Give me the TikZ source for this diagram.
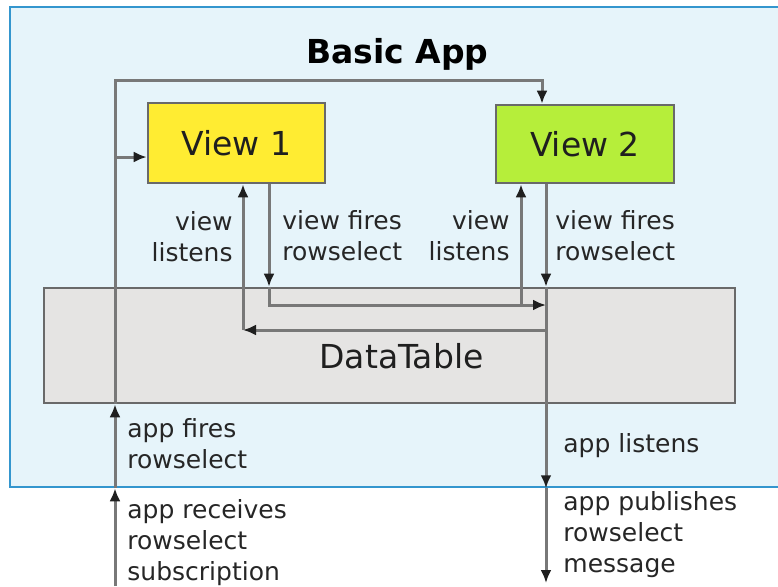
\documentclass[tikz,border=0pt]{standalone}
\usepackage{fontspec}
\setmainfont{DejaVu Sans}
\usetikzlibrary{arrows.meta, positioning, calc}
\definecolor{appblue}{RGB}{230,244,250}
\definecolor{appedge}{RGB}{52,150,206}
\definecolor{viewyellow}{RGB}{255,236,50}
\definecolor{viewgreen}{RGB}{182,238,58}
\definecolor{tablegray}{RGB}{229,228,227}
\definecolor{edgegray}{RGB}{105,105,105}
\definecolor{linegray}{RGB}{120,120,120}

\begin{document}
\begin{tikzpicture}[x=0.5pt, y=-0.5pt,
    box/.style={rectangle, draw=edgegray, line width=1.3pt, inner sep=0pt},
    bigtext/.style={font=\fontsize{16.5}{19}\selectfont, text=black!88},
    lbl/.style={font=\fontsize{12.5}{15.5}\selectfont, inner sep=0pt, text=black!85},
    flow/.style={-{Latex[length=6.5pt,width=5.5pt,color=black!88]}, draw=linegray, line width=1.5pt},
]
\clip (0,0) rectangle (778,586);

\node[box, draw=appedge, fill=appblue, minimum width=395pt, minimum height=240pt] (app) at (405,247) {};
\node[font=\fontsize{16.5}{19}\selectfont\bfseries, anchor=base] (title) at (397.5,63) {Basic App};

\node[box, bigtext, fill=viewyellow, minimum width=88.5pt, minimum height=40pt] (view1) at (236.5,143) {View 1};
\node[box, bigtext, fill=viewgreen, minimum width=89pt, minimum height=39pt] (view2) at (585,144) {View 2};
\node[box, fill=tablegray, minimum width=345.5pt, minimum height=57.5pt] (table) at (389.5,345.5) {};
\node[bigtext, anchor=base] (tablename) at (401.5,368) {DataTable};

% app subscription -> DataTable -> views
\coordinate (sub) at (115,586);
\coordinate (loopL) at (115,80);
\coordinate (loopR) at (542,80);
\coordinate (in1) at (115,157);
\draw[flow] (sub) -- (sub |- app.south);
\draw[flow] (sub |- app.south) -- (sub |- table.south);
\draw[flow] (sub |- table.south) -- (loopL) -- (loopR) -- (loopR |- view2.north);
\draw[flow] (in1) -- (in1 -| view1.west);

% View1 fires rowselect
\coordinate (f1) at (269,305);
\coordinate (j2) at (546,305);
\draw[flow] (f1 |- view1.south) -- (f1 |- table.north);
\draw[flow] (f1 |- table.north) -- (f1) -- (j2);

% View1 listens
\coordinate (l1) at (243,330);
\coordinate (j1) at (546,330);
\draw[flow] (j1) -- (l1);
\draw[flow] (l1) -- (l1 |- view1.south);

% View2 listens
\coordinate (l2) at (521,305);
\draw[flow] (l2) -- (l2 |- view2.south);

% View2 fires rowselect -> app publishes
\coordinate (pub) at (546,583);
\draw[flow] (pub |- view2.south) -- (pub |- table.north);
\draw[flow] (pub |- table.north) -- (pub |- app.south);
\draw[flow] (pub |- app.south) -- (pub);

% labels
\node[lbl, anchor=north east, align=right] (lis1) at (233,211) {view\\listens};
\node[lbl, anchor=north west, align=left] (fire1) at (282,210) {view fires\\rowselect};
\node[lbl, anchor=north east, align=right] (lis2) at (510,210) {view\\listens};
\node[lbl, anchor=north west, align=left] (fire2) at (555,210) {view fires\\rowselect};
\node[lbl, anchor=north west, align=left] (appfire) at (127,418) {app fires\\rowselect};
\node[lbl, anchor=north west, align=left] (appsub) at (127,499) {app receives\\rowselect\\subscription};
\node[lbl, anchor=north west, align=left] (applis) at (563,433) {app listens};
\node[lbl, anchor=north west, align=left] (apppub) at (563,491) {app publishes\\rowselect\\message};

\end{tikzpicture}
\end{document}
